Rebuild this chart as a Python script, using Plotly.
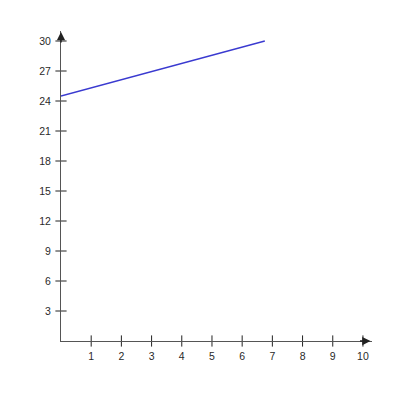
import plotly.graph_objects as go

# line endpoints
line_x = [0, 6.75]
line_y = [24.5, 30]

x_ticks = [1, 2, 3, 4, 5, 6, 7, 8, 9, 10]
y_ticks = [3, 6, 9, 12, 15, 18, 21, 24, 27, 30]

fig = go.Figure()

# tick marks that cross the axes
fig.add_trace(go.Scatter(
    x=x_ticks, y=[0] * len(x_ticks), mode="markers",
    marker=dict(symbol="line-ns-open", size=8, color="#222",
                line=dict(color="#222", width=1)),
    cliponaxis=False, hoverinfo="skip",
))
fig.add_trace(go.Scatter(
    x=[0] * len(y_ticks), y=y_ticks, mode="markers",
    marker=dict(symbol="line-ew-open", size=8, color="#222",
                line=dict(color="#222", width=1)),
    cliponaxis=False, hoverinfo="skip",
))

fig.add_trace(go.Scatter(
    x=line_x, y=line_y, mode="lines",
    line=dict(color="#3a3ad0", width=1.3),
    cliponaxis=False,
))

# arrowheads at the ends of the axes
fig.add_annotation(x=10.25, y=0, ax=-12, ay=0, showarrow=True, arrowhead=2,
                   arrowsize=1.1, arrowwidth=1.5, arrowcolor="#222", text="")
fig.add_annotation(x=0, y=30.9, ax=0, ay=12, showarrow=True, arrowhead=2,
                   arrowsize=1.1, arrowwidth=1.5, arrowcolor="#222", text="")

fig.update_xaxes(
    range=[0, 10.3], tickvals=x_ticks, showgrid=False, zeroline=False,
    showline=True, linecolor="#555", linewidth=1, ticks="", ticklabelstandoff=5,
)
fig.update_yaxes(
    range=[0, 31], tickvals=y_ticks, showgrid=False, zeroline=False,
    showline=True, linecolor="#555", linewidth=1, ticks="", ticklabelstandoff=7,
)

fig.update_layout(
    width=400, height=400, showlegend=False,
    plot_bgcolor="white", paper_bgcolor="white",
    margin=dict(l=53, r=36, t=23, b=67),
    font=dict(family="Liberation Sans, Arial", size=10.5, color="#2a2a2a"),
)

fig.write_html("out.html")
